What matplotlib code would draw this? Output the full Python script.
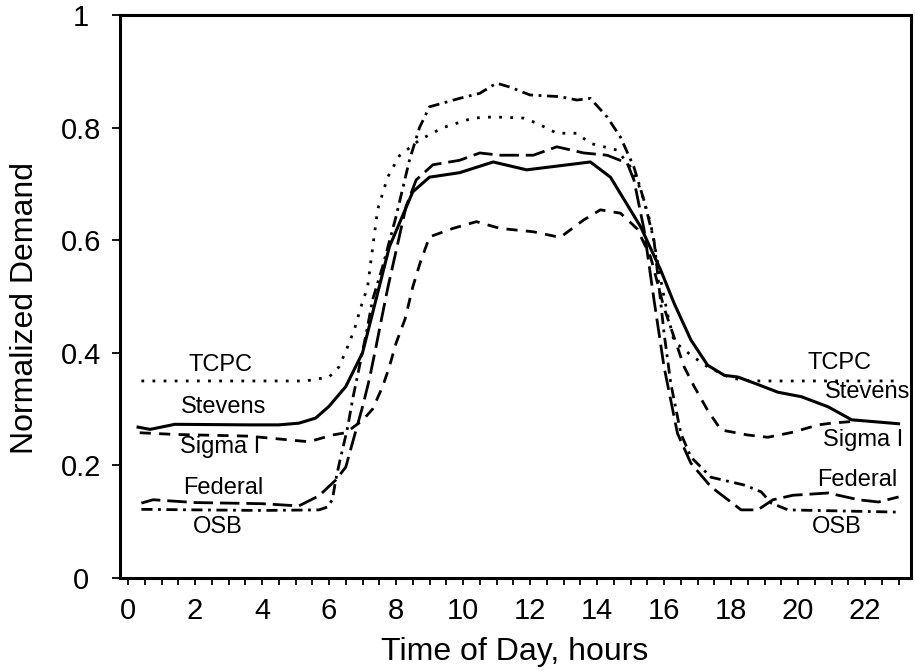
import matplotlib
matplotlib.use("Agg")
import matplotlib.pyplot as plt
from matplotlib.ticker import MultipleLocator, FixedLocator

plt.rcParams['font.family'] = ['Liberation Sans', 'DejaVu Sans']

# hours of day and normalized demand
tcpc_h = [0.4, 5.3, 6.0, 6.3, 6.55, 6.75, 6.95, 7.15, 7.45, 7.75, 8.1, 8.7, 9.4, 10.3, 10.9, 11.8,
          12.2, 12.8, 13.4, 13.8, 14.6, 15.0, 15.3, 15.6, 15.9, 16.1, 16.3, 16.8, 17.3, 18.0, 18.6, 23.0]
tcpc_v = [0.35, 0.35, 0.357, 0.375, 0.41, 0.44, 0.481, 0.517, 0.654, 0.712, 0.75, 0.778, 0.80, 0.817,
          0.819, 0.817, 0.808, 0.79, 0.79, 0.772, 0.76, 0.73, 0.69, 0.63, 0.53, 0.47, 0.42, 0.396, 0.375,
          0.355, 0.35, 0.35]

stevens_h = [0.3, 0.66, 1.4, 3.6, 4.5, 5.1, 5.6, 6.0, 6.5, 7.0, 7.4, 7.8, 8.5, 9.0, 9.9, 10.9, 11.9,
             13.8, 14.4, 15.3, 15.9, 16.3, 16.8, 17.3, 17.8, 18.2, 18.7, 19.4, 20.1, 20.9, 21.6, 23.0]
stevens_v = [0.268, 0.264, 0.273, 0.272, 0.272, 0.275, 0.284, 0.305, 0.34, 0.40, 0.494, 0.588, 0.686,
             0.712, 0.72, 0.739, 0.725, 0.739, 0.712, 0.624, 0.547, 0.488, 0.423, 0.378, 0.36, 0.357,
             0.346, 0.33, 0.322, 0.304, 0.281, 0.274]

sigma_h = [0.35, 1.4, 3.6, 5.4, 6.1, 6.5, 7.0, 7.3, 7.6, 7.8, 8.0, 8.27, 8.5, 8.72, 9.0, 9.7, 10.4,
           11.1, 12.1, 12.9, 13.6, 14.1, 14.7, 15.2, 15.6, 16.0, 16.4, 16.6, 16.9, 17.3, 17.7, 18.5,
           19.1, 19.85, 20.6, 21.0, 21.6]
sigma_v = [0.258, 0.255, 0.252, 0.242, 0.254, 0.258, 0.28, 0.30, 0.34, 0.375, 0.417, 0.46, 0.517,
           0.56, 0.606, 0.621, 0.633, 0.621, 0.615, 0.605, 0.636, 0.654, 0.648, 0.62, 0.57, 0.48,
           0.41, 0.375, 0.34, 0.298, 0.263, 0.254, 0.25, 0.259, 0.272, 0.275, 0.278]

federal_h = [0.4, 0.75, 2.0, 4.0, 5.1, 5.7, 6.2, 6.5, 6.7, 7.0, 7.2, 7.4, 7.6, 7.76, 8.3, 8.6, 9.1,
             9.9, 10.5, 11.1, 12.1, 12.8, 13.6, 14.3, 14.9, 15.1, 15.4, 15.7, 16.0, 16.4, 16.8, 17.4,
             18.3, 18.8, 19.25, 19.85, 20.9, 21.8, 22.4, 23.0]
federal_v = [0.133, 0.139, 0.134, 0.132, 0.128, 0.146, 0.174, 0.197, 0.24, 0.304, 0.352, 0.41, 0.47,
             0.517, 0.66, 0.707, 0.734, 0.742, 0.755, 0.751, 0.751, 0.766, 0.755, 0.751, 0.737, 0.707,
             0.62, 0.494, 0.375, 0.257, 0.204, 0.162, 0.121, 0.121, 0.139, 0.147, 0.151, 0.139, 0.135,
             0.144]

osb_h = [0.4, 2.0, 4.0, 5.7, 5.95, 6.1, 6.2, 6.33, 6.54, 6.72, 6.93, 7.13, 7.3, 7.6, 8.0, 8.4, 8.7,
         9.0, 9.9, 10.5, 11.0, 11.4, 12.0, 12.9, 13.4, 13.8, 14.3, 14.7, 15.1, 15.4, 15.7, 16.0, 16.2,
         16.5, 16.8, 17.4, 18.4, 18.9, 19.2, 19.7, 23.0]
osb_v = [0.122, 0.121, 0.12, 0.121, 0.126, 0.139, 0.174, 0.21, 0.263, 0.322, 0.382, 0.44, 0.494,
         0.553, 0.642, 0.742, 0.80, 0.837, 0.852, 0.861, 0.879, 0.872, 0.858, 0.855, 0.849, 0.852,
         0.819, 0.783, 0.73, 0.671, 0.60, 0.435, 0.346, 0.257, 0.215, 0.179, 0.165, 0.153, 0.133,
         0.121, 0.117]

names = ['TCPC', 'Stevens', 'Sigma I', 'Federal', 'OSB']
left_lab = [(2.75, 0.378), (2.84, 0.304), (2.75, 0.233), (2.84, 0.16), (2.69, 0.09)]
right_lab = [(21.25, 0.382), (22.06, 0.33), (21.94, 0.245), (21.76, 0.174), (21.16, 0.09)]

fig = plt.figure(figsize=(9.15, 6.71), dpi=100)
ax = fig.add_axes([0.1311, 0.1386, 0.8645, 0.839])

ax.plot(tcpc_h, tcpc_v, color='black', lw=2, ls=(0, (1, 3)))
ax.plot(stevens_h, stevens_v, color='black', lw=2.2, ls='-')
ax.plot(sigma_h, sigma_v, color='black', lw=2, ls=(0, (4, 3)))
ax.plot(federal_h, federal_v, color='black', lw=2, ls=(0, (7, 2.5)))
ax.plot(osb_h, osb_v, color='black', lw=2, ls=(0, (4, 2, 1, 2)))

for name, (x, y) in zip(names, left_lab):
    ax.text(x, y, name, fontsize=17, ha='center', va='center')
for name, (x, y) in zip(names, right_lab):
    ax.text(x, y, name, fontsize=17, ha='center', va='center')

ax.set_xlim(-0.24, 23.37)
ax.set_ylim(0, 1)

ax.xaxis.set_major_locator(FixedLocator(list(range(0, 23, 2))))
ax.xaxis.set_minor_locator(MultipleLocator(0.5))
ax.set_xticklabels([str(h) for h in range(0, 23, 2)])
ax.yaxis.set_major_locator(FixedLocator([0, 0.2, 0.4, 0.6, 0.8, 1.0]))
ax.set_yticklabels(['0', '0.2', '0.4', '0.6', '0.8', '1'])

ax.tick_params(axis='x', which='both', direction='out', length=5, width=1.3, labelsize=21, pad=9)
ax.tick_params(axis='y', which='both', direction='out', length=6, width=1.3, labelsize=21, pad=22)
for lab in ax.get_yticklabels():
    lab.set_horizontalalignment('center')

for sp in ax.spines.values():
    sp.set_linewidth(2.2)

fig.text(25 / 915, 1 - 308 / 671, 'Normalized Demand', rotation=90, fontsize=23,
         ha='center', va='center')
fig.text(515 / 915, 1 - 652 / 671, 'Time of Day, hours', fontsize=23, ha='center', va='center')

fig.savefig('out.png', dpi=100)
